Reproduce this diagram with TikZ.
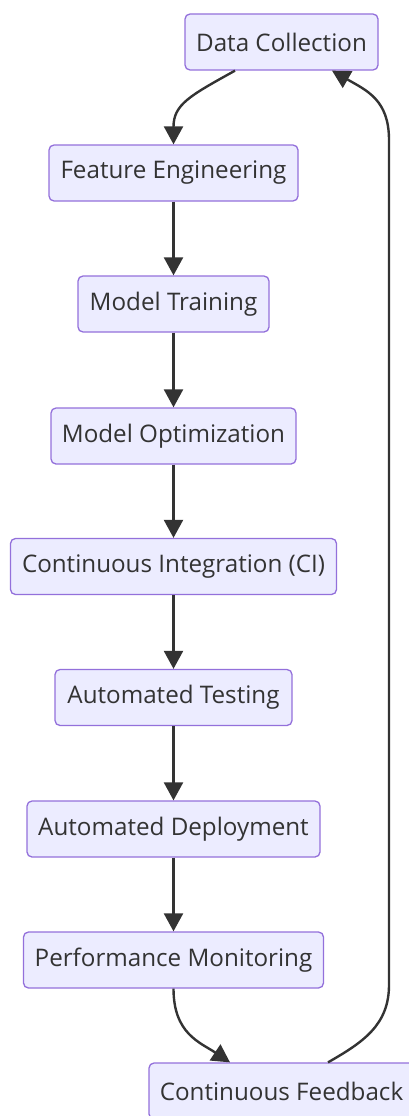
\documentclass[tikz,border=0pt]{standalone}
\usepackage{fontspec}
\setmainfont{Open Sans}
\usetikzlibrary{arrows.meta}
\definecolor{boxfill}{HTML}{ECECFF}
\definecolor{boxline}{HTML}{9370DB}
\definecolor{ink}{HTML}{333333}
\tikzset{
  flowbox/.style={draw=boxline, fill=boxfill, line width=1.3pt, rounded corners=5pt,
    minimum height=56pt, inner sep=0pt, text=ink, font=\fontsize{24.2}{29}\selectfont},
  link/.style={draw=ink, line width=2.4pt, -{Triangle[length=18pt,width=19pt]}},
}
\begin{document}
\begin{tikzpicture}[x=1pt,y=-1pt]
\useasboundingbox (0,0) rectangle (409,1116);
\begin{scope}
\clip (0,0) rectangle (409,1116);
\node[flowbox, minimum width=193pt] (dc) at (281.5,42) {Data Collection};
\node[flowbox, minimum width=249pt] (fe) at (173.5,173) {Feature Engineering};
\node[flowbox, minimum width=191pt] (mt) at (173.5,304) {Model Training};
\node[flowbox, minimum width=245pt] (mo) at (173.5,436) {Model Optimization};
\node[flowbox, minimum width=326pt] (ci) at (173.5,566.5) {Continuous Integration (CI)};
\node[flowbox, minimum width=237pt] (at) at (173.5,697.5) {Automated Testing};
\node[flowbox, minimum width=293pt] (ad) at (173.5,829) {Automated Deployment};
\node[flowbox, minimum width=300pt] (pm) at (173.5,960) {Performance Monitoring};
\node[flowbox, minimum width=265pt] (cf) at (281.5,1091) {Continuous Feedback};

\draw[link] ([xshift=-46.5pt]dc.south) .. controls +(-45,25) and +(0,-40) .. (fe.north);
\draw[link] (fe.south) -- (mt.north);
\draw[link] (mt.south) -- (mo.north);
\draw[link] (mo.south) -- (ci.north);
\draw[link] (ci.south) -- (at.north);
\draw[link] (at.south) -- (ad.north);
\draw[link] (ad.south) -- (pm.north);
\draw[link] (pm.south) .. controls +(0,45) and +(-30,-20) .. ([xshift=-51.5pt]cf.north);
\coordinate (rb) at (389,985);
\coordinate (rt) at (389,140);
\draw[link] ([xshift=46.5pt]cf.north) .. controls +(35,-20) and +(0,40) .. (rb) -- (rt) .. controls +(0,-40) and +(35,20) .. ([xshift=50.5pt]dc.south);
\end{scope}
\end{tikzpicture}
\end{document}
